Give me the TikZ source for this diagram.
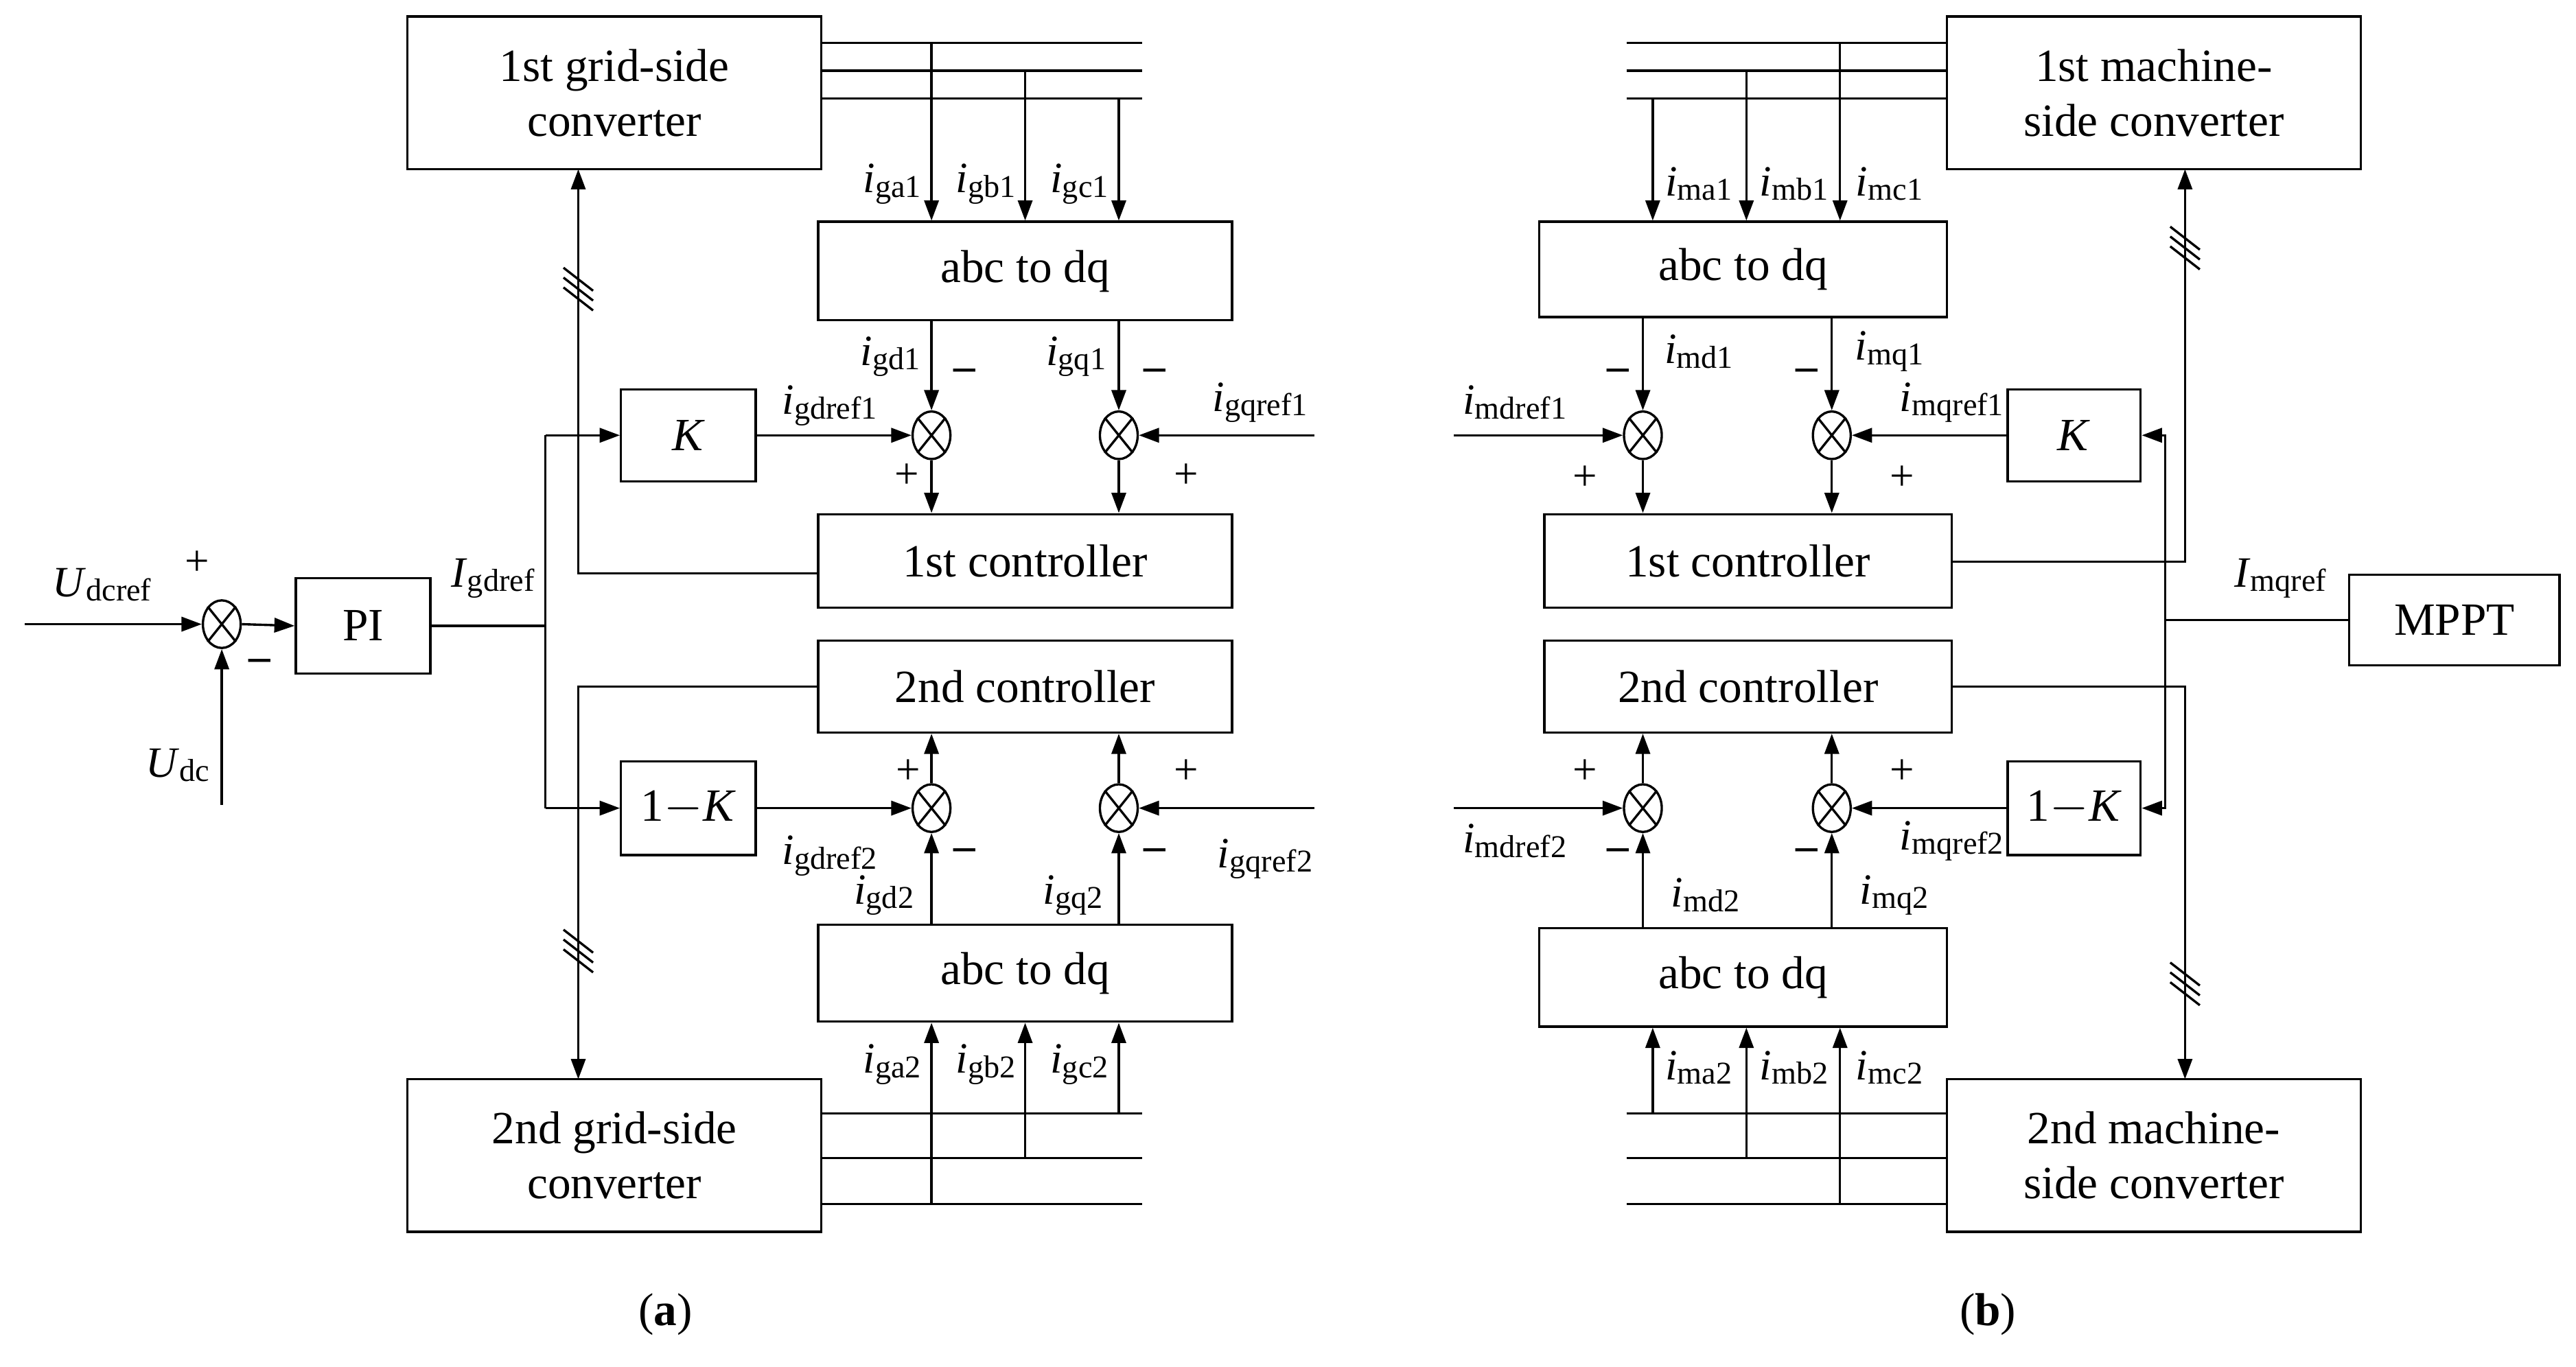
\documentclass[tikz,border=0pt]{standalone}
\usepackage{fontspec}
\setmainfont{Liberation Serif}
\usetikzlibrary{arrows.meta,shapes.geometric}
\newcommand\lbl[2]{\textit{#1}{\fontsize{11}{11}\selectfont\raisebox{-0.3ex}{#2}}}
\newcommand\tslash[2]{\foreach \k in {0,6,12}{\draw (#1-9,#2-7+\k) -- (#1+9,#2+7+\k);}}
\newcommand\mymn{\textbf{--}}
\begin{document}
\begin{tikzpicture}[x=0.02cm,y=-0.02cm,line width=0.8pt,
  box/.style={draw,inner sep=0pt,font=\fontsize{16}{19}\selectfont,align=center},
  sum/.style={draw,ellipse,minimum width=0.46cm,minimum height=0.58cm,inner sep=0pt},
  lab/.style={font=\fontsize{15}{15}\selectfont,inner sep=1pt},
  sg/.style={font=\fontsize{15}{15}\selectfont,inner sep=0pt},
  arr/.style={-{Triangle[length=7pt,width=5pt]}}]
\useasboundingbox (0,0) rectangle (1568,832);
% ---------- panel (a)
\node[box,minimum width=5.04cm,minimum height=1.86cm] (gc1) at (374,56.5) {1st grid-side\\converter};
\node[box,minimum width=5.04cm,minimum height=1.2cm] (abc1) at (624,165) {abc to dq};
\node[box,minimum width=1.64cm,minimum height=1.12cm] (K1) at (419,265) {\textit{K}};
\node[box,minimum width=5.04cm,minimum height=1.14cm] (ctl1) at (624,341.5) {1st controller};
\node[box,minimum width=1.64cm,minimum height=1.16cm] (PI) at (221,381) {PI};
\node[box,minimum width=5.04cm,minimum height=1.12cm] (ctl2) at (624,418) {2nd controller};
\node[box,minimum width=1.64cm,minimum height=1.14cm] (K2) at (419,492) {1$-$\textit{K}};
\node[box,minimum width=5.04cm,minimum height=1.18cm] (abc2) at (624,592.5) {abc to dq};
\node[box,minimum width=5.04cm,minimum height=1.86cm] (gc2) at (374,703.5) {2nd grid-side\\converter};
\node[sum] (s1) at (567,265) {}; \node[sum] (s2) at (681,265) {};
\node[sum] (s3) at (567,492) {}; \node[sum] (s4) at (681,492) {};
\node[sum] (s0) at (135,380) {};
\foreach \s in {s0,s1,s2,s3,s4}{\draw (\s.north west)--(\s.south east) (\s.north east)--(\s.south west);}
\foreach \y in {26,43,60}{\draw (gc1.east|-0,\y) -- (695,\y);}
\coordinate (ta) at (567,26); \coordinate (tb) at (624,43); \coordinate (tc) at (681,60);
\foreach \c in {ta,tb,tc}{\draw[arr] (\c) -- (\c|-abc1.north);}
\node[lab] at (543,112) {\lbl{i}{ga1}}; \node[lab] at (600,112) {\lbl{i}{gb1}}; \node[lab] at (657,112) {\lbl{i}{gc1}};
\draw[arr] (s1|-abc1.south) -- (s1.north); \draw[arr] (s2|-abc1.south) -- (s2.north);
\node[lab] at (542,217) {\lbl{i}{gd1}}; \node[lab] at (655,217) {\lbl{i}{gq1}};
\node[sg] at (587,228) {\mymn}; \node[sg] at (703,228) {\mymn};
\draw[arr] (K1.east) -- (s1.west); \node[lab] at (505,247) {\lbl{i}{gdref1}};
\coordinate (r1) at (800,265); \draw[arr] (r1) -- (s2.east); \node[lab] at (767,245) {\lbl{i}{gqref1}};
\node[sg] at (552,290) {+}; \node[sg] at (722,290) {+};
\draw[arr] (s1.south) -- (s1|-ctl1.north); \draw[arr] (s2.south) -- (s2|-ctl1.north);
\draw[arr] (ctl1.west|-0,349) -- (352,349) -- (352,103);
\tslash{352}{170}
\coordinate (u1) at (15,380); \coordinate (u2) at (135,490);
\draw[arr] (u1) -- (s0.west); \draw[arr] (u2) -- (s0.south);
\node[lab] at (62,356) {\lbl{U}{dcref}}; \node[lab] at (108,466) {\lbl{U}{dc}};
\node[sg] at (120,343) {+}; \node[sg] at (158,405) {\mymn};
\draw[arr] (s0.east) -- (PI.west);
\draw (PI.east) -- (332,381); \node[lab] at (300,352) {\lbl{I}{gdref}};
\draw[arr] (332,265) -- (K1.west); \draw (332,265) -- (332,492);
\draw[arr] (332,492) -- (K2.west);
\draw[arr] (K2.east) -- (s3.west); \node[lab] at (505,521) {\lbl{i}{gdref2}};
\coordinate (r2) at (800,492); \draw[arr] (r2) -- (s4.east); \node[lab] at (770,523) {\lbl{i}{gqref2}};
\node[sg] at (553,470) {+}; \node[sg] at (722,470) {+};
\node[sg] at (587,520) {\mymn}; \node[sg] at (703,520) {\mymn};
\draw[arr] (s3.north) -- (s3|-ctl2.south); \draw[arr] (s4.north) -- (s4|-ctl2.south);
\draw[arr] (s3|-abc2.north) -- (s3.south); \draw[arr] (s4|-abc2.north) -- (s4.south);
\node[lab] at (538,545) {\lbl{i}{gd2}}; \node[lab] at (653,545) {\lbl{i}{gq2}};
\draw[arr] (ctl2.west|-0,418) -- (352,418) -- (352,657);
\tslash{352}{573}
\foreach \y in {678,705,733}{\draw (gc2.east|-0,\y) -- (695,\y);}
\coordinate (ba) at (567,733); \coordinate (bb) at (624,705); \coordinate (bc) at (681,678);
\foreach \c in {ba,bb,bc}{\draw[arr] (\c) -- (\c|-abc2.south);}
\node[lab] at (543,648) {\lbl{i}{ga2}}; \node[lab] at (600,648) {\lbl{i}{gb2}}; \node[lab] at (657,648) {\lbl{i}{gc2}};
\node[font=\fontsize{16}{16}\selectfont] (ca) at (405,800) {(\textbf{a})};
% ---------- panel (b)
\node[box,minimum width=5.04cm,minimum height=1.86cm] (mc1) at (1311,56.5) {1st machine-\\side converter};
\node[box,minimum width=4.96cm,minimum height=1.16cm] (abc3) at (1061,164) {abc to dq};
\node[box,minimum width=1.62cm,minimum height=1.12cm] (K3) at (1262.5,265) {\textit{K}};
\node[box,minimum width=4.96cm,minimum height=1.14cm] (ctl3) at (1064,341.5) {1st controller};
\node[box,minimum width=4.96cm,minimum height=1.12cm] (ctl4) at (1064,418) {2nd controller};
\node[box,minimum width=1.62cm,minimum height=1.14cm] (K4) at (1262.5,492) {1$-$\textit{K}};
\node[box,minimum width=4.96cm,minimum height=1.2cm] (abc4) at (1061,595) {abc to dq};
\node[box,minimum width=5.04cm,minimum height=1.86cm] (mc2) at (1311,703.5) {2nd machine-\\side converter};
\node[box,minimum width=2.56cm,minimum height=1.1cm] (MP) at (1494,377.5) {MPPT};
\node[sum] (m1) at (1000,265) {}; \node[sum] (m2) at (1115,265) {};
\node[sum] (m3) at (1000,492) {}; \node[sum] (m4) at (1115,492) {};
\foreach \s in {m1,m2,m3,m4}{\draw (\s.north west)--(\s.south east) (\s.north east)--(\s.south west);}
\foreach \y in {26,43,60}{\draw (990,\y) -- (mc1.west|-0,\y);}
\coordinate (pa) at (1006,60); \coordinate (pb) at (1063,43); \coordinate (pc) at (1120,26);
\foreach \c in {pa,pb,pc}{\draw[arr] (\c) -- (\c|-abc3.north);}
\node[lab] at (1034,112) {\lbl{i}{ma1}}; \node[lab] at (1092,112) {\lbl{i}{mb1}}; \node[lab] at (1150,112) {\lbl{i}{mc1}};
\draw[arr] (m1|-abc3.south) -- (m1.north); \draw[arr] (m2|-abc3.south) -- (m2.north);
\node[lab] at (1034,214) {\lbl{i}{md1}}; \node[lab] at (1150,214) {\lbl{i}{mq1}};
\node[sg] at (985,228) {\mymn}; \node[sg] at (1100,228) {\mymn};
\coordinate (q1) at (885,265); \draw[arr] (q1) -- (m1.west); \node[lab] at (922,245) {\lbl{i}{mdref1}};
\draw[arr] (K3.west) -- (m2.east); \node[lab] at (1188,245) {\lbl{i}{mqref1}};
\node[sg] at (965,291) {+}; \node[sg] at (1158,291) {+};
\draw[arr] (m1.south) -- (m1|-ctl3.north); \draw[arr] (m2.south) -- (m2|-ctl3.north);
\draw[arr] (ctl3.east|-0,342) -- (1330,342) -- (1330,103);
\tslash{1330}{145}
\draw[arr] (MP.west) -- (1318,377.5) -- (1318,265) -- (K3.east);
\draw[arr] (1318,377.5) -- (1318,492) -- (K4.east);
\node[lab] at (1388,352) {\lbl{I}{mqref}};
\coordinate (q2) at (885,492); \draw[arr] (q2) -- (m3.west); \node[lab] at (922,512) {\lbl{i}{mdref2}};
\draw[arr] (K4.west) -- (m4.east); \node[lab] at (1188,512) {\lbl{i}{mqref2}};
\node[sg] at (965,470) {+}; \node[sg] at (1158,470) {+};
\node[sg] at (985,520) {\mymn}; \node[sg] at (1100,520) {\mymn};
\draw[arr] (m3.north) -- (m3|-ctl4.south); \draw[arr] (m4.north) -- (m4|-ctl4.south);
\draw[arr] (m3|-abc4.north) -- (m3.south); \draw[arr] (m4|-abc4.north) -- (m4.south);
\node[lab] at (1038,545) {\lbl{i}{md2}}; \node[lab] at (1153,545) {\lbl{i}{mq2}};
\draw[arr] (ctl4.east|-0,418) -- (1330,418) -- (1330,657);
\tslash{1330}{593}
\foreach \y in {678,705,733}{\draw (990,\y) -- (mc2.west|-0,\y);}
\coordinate (na) at (1006,678); \coordinate (nb) at (1063,705); \coordinate (nc) at (1120,733);
\foreach \c in {na,nb,nc}{\draw[arr] (\c) -- (\c|-abc4.south);}
\node[lab] at (1034,650) {\lbl{i}{ma2}}; \node[lab] at (1092,650) {\lbl{i}{mb2}}; \node[lab] at (1150,650) {\lbl{i}{mc2}};
\node[font=\fontsize{16}{16}\selectfont] (cb) at (1210,800) {(\textbf{b})};
\end{tikzpicture}
\end{document}
